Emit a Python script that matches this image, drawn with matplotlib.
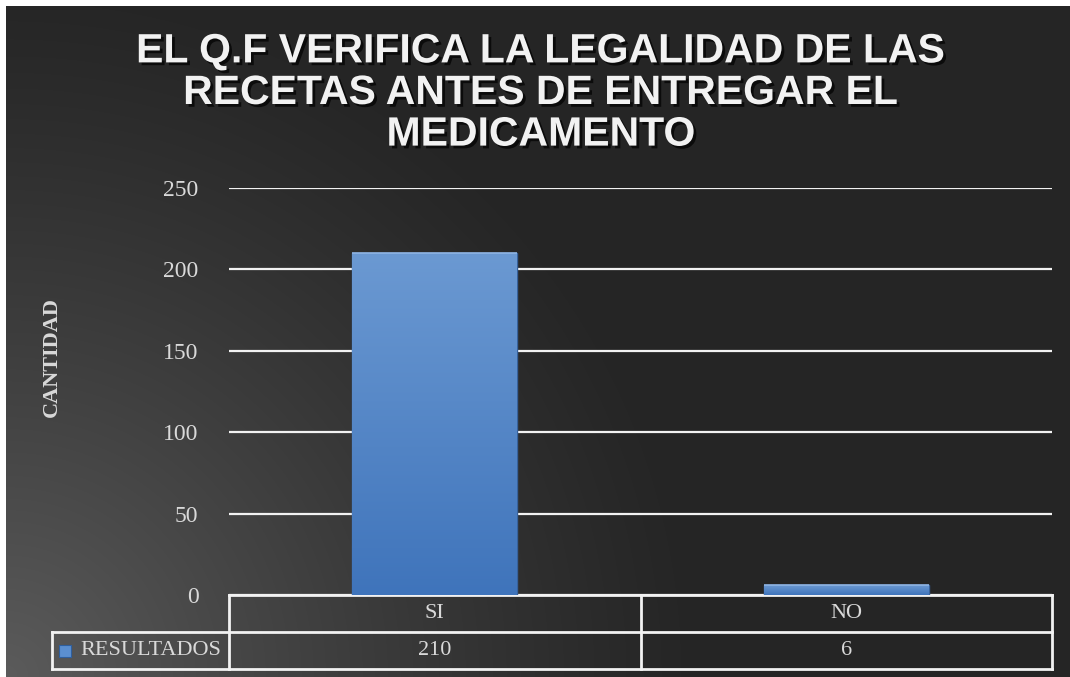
import numpy as np
import matplotlib
matplotlib.use("Agg")
import matplotlib.pyplot as plt
import matplotlib.patheffects as pe

# data
categories = ["SI", "NO"]
values = [210, 6]
series_name = "RESULTADOS"
title = "EL Q.F VERIFICA LA LEGALIDAD DE LAS\nRECETAS ANTES DE ENTREGAR EL\nMEDICAMENTO"
ylabel = "CANTIDAD"
yticks = [0, 50, 100, 150, 200, 250]

W, H = 1070, 677
fig = plt.figure(figsize=(W / 100, H / 100), dpi=100, facecolor="white")

# dark background, lighter in the bottom-left corner
bg = fig.add_axes([6 / W, 0, (W - 6) / W, (H - 6) / H], zorder=-5)
bg.set_axis_off()
gy, gx = np.mgrid[0:671, 0:1064]
d = np.sqrt(gx ** 2 + (670 - gy) ** 2)
t = np.clip(1 - d / 700, 0, 1) ** 1.2
shade = (37 + 54 * t) / 255
bg.imshow(np.dstack([shade, shade, shade]), aspect="auto", extent=(0, 1, 0, 1))
bg.set_xlim(0, 1)
bg.set_ylim(0, 1)

x0, x1 = 229, 1052
y0, y1 = 188, 595
ax = fig.add_axes([x0 / W, 1 - y1 / H, (x1 - x0) / W, (y1 - y0) / H])
ax.set_facecolor("none")

xpos = np.arange(len(categories))
bars = ax.bar(xpos, values, width=0.4, color="#4f83c8", edgecolor="#37629c",
              linewidth=1.0, zorder=3)
grad = np.linspace(0, 1, 256).reshape(-1, 1)
cmap = matplotlib.colors.LinearSegmentedColormap.from_list("b", ["#3f74bb", "#6b99d2"])
for b in bars:
    bx, by = b.get_x(), b.get_y()
    im = ax.imshow(grad, cmap=cmap, aspect="auto", origin="lower",
                   extent=(bx, bx + b.get_width(), by, by + b.get_height()), zorder=4)
    im.set_clip_path(b)
    ax.plot([bx, bx + b.get_width()], [by + b.get_height()] * 2, color="#8fb4e3",
            lw=1.2, zorder=5, solid_capstyle="butt")

ax.set_xlim(-0.5, len(categories) - 0.5)
ax.set_ylim(0, 250)
ax.set_yticks(yticks)
ax.set_xticks([])
ax.grid(axis="y", color="#f2f2f2", linewidth=1.6, zorder=1)
ax.set_axisbelow(True)
for s in ax.spines.values():
    s.set_visible(False)
ax.tick_params(axis="y", length=0, pad=22, labelsize=17, labelcolor="#d9d9d9")
for lab in ax.get_yticklabels():
    lab.set_fontfamily("Liberation Serif")

# data table under the plot
tr = ax.get_xaxis_transform()
rh = 37 / (y1 - y0)
lab_left = (52 - x0) / (x1 - x0)
lc = "#f2f2f2"
lw = 2
edges = np.arange(len(categories) + 1) - 0.5
ax.plot([edges[0], edges[-1]], [0, 0], transform=tr, color=lc, lw=lw, clip_on=False)
for k in (1, 2):
    ax.plot([edges[0], edges[-1]], [-k * rh] * 2, transform=tr, color=lc, lw=lw, clip_on=False)
    ax.plot([lab_left, 0], [-k * rh] * 2, transform=ax.transAxes, color=lc, lw=lw, clip_on=False)
for e in edges:
    ax.plot([e, e], [0, -2 * rh], transform=tr, color=lc, lw=lw, clip_on=False)
ax.plot([lab_left, lab_left], [-rh, -2 * rh], transform=ax.transAxes, color=lc, lw=lw, clip_on=False)

tfont = dict(family="Liberation Serif", size=16, color="#d9d9d9", ha="center", va="center")
for i, (c, v) in enumerate(zip(categories, values)):
    ax.text(i, -0.5 * rh, c, transform=tr, **tfont)
    ax.text(i, -1.5 * rh, str(v), transform=tr, **tfont)
ax.text((80 - x0) / (x1 - x0), -1.5 * rh, series_name, transform=ax.transAxes,
        family="Liberation Serif", size=16, color="#d9d9d9", ha="left", va="center")
ax.scatter([(65 - x0) / (x1 - x0)], [-1.5 * rh], transform=ax.transAxes, marker="s",
           s=70, color="#5b8fd0", edgecolor="#2f5f9e", linewidth=0.8, clip_on=False)

fig.text(52 / W, 1 - 357 / H, ylabel, rotation=90, ha="center", va="center",
         family="Liberation Serif", weight="bold", size=16, color="#d9d9d9")

fig.text(541 / W, 1 - 93 / H, title, ha="center", va="center", multialignment="center",
         family="Liberation Sans", weight="bold", size=29.5, color="#f2f2f2",
         linespacing=1.12,
         path_effects=[pe.withSimplePatchShadow(offset=(2, -2), shadow_rgbFace="black", alpha=0.7)])

fig.savefig("out.png", dpi=100, facecolor=fig.get_facecolor())
